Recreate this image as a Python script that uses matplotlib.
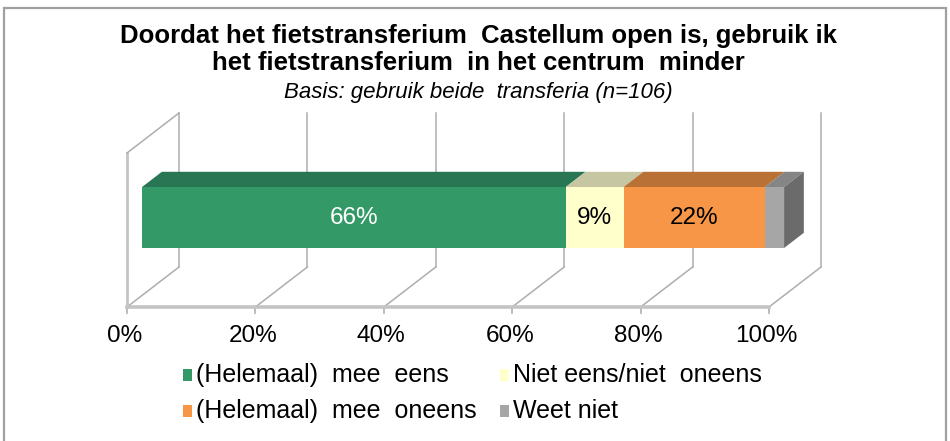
import matplotlib.pyplot as plt
from matplotlib.patches import Polygon, Rectangle

plt.rcParams['font.family'] = ['Liberation Sans', 'DejaVu Sans']

# data
categories = ['(Helemaal)  mee  eens', 'Niet eens/niet  oneens',
              '(Helemaal)  mee  oneens', 'Weet niet']
values = [66, 9, 22, 3]
bar_labels = ['66%', '9%', '22%', '']
front_colors = ['#339966', '#FFFFCC', '#F79646', '#A6A6A6']
top_colors = ['#287653', '#C6C6A2', '#BA7136', '#858585']
side_color = '#6B6B6B'
label_colors = ['white', 'black', 'black', 'black']
ticks = [0, 20, 40, 60, 80, 100]

title_lines = ['Doordat het fietstransferium  Castellum open is, gebruik ik',
               'het fietstransferium  in het centrum  minder']
subtitle = 'Basis: gebruik beide  transferia (n=106)'

# 3d look: depth offset (x in %, y in px)
DX, DY = 8.1, 40
WALL_H = 154
F1, F2 = 0.29, 0.67          # front/back depth of the bar
H0, H1 = 47.4, 108.4         # bar bottom/top


def proj(x, h, d):
    return (x + d * DX, h + d * DY)


fig = plt.figure(figsize=(9.5, 4.41), dpi=100)
ax = fig.add_axes([94.9 / 950, 124 / 441, 770.4 / 950, 210 / 441])
ax.set_xlim(-5, 115)
ax.set_ylim(-10, 200)
ax.axis('off')

grid_c = '#ADADAD'
# floor lines + back wall gridlines
for t in ticks:
    bx, by = proj(t, 0, 1)
    ax.plot([t, bx], [0, by], color=grid_c, lw=1.1, zorder=1)
    ax.plot([bx, bx], [by, by + WALL_H], color=grid_c, lw=1.1, zorder=1)
    ax.plot([t, t], [0, -6], color='#B5B5B5', lw=1.3, zorder=1)
# left wall
tx, ty = proj(0, WALL_H, 1)
ax.plot([0, 0], [0, WALL_H], color='#C4C4C4', lw=2.0, zorder=1)
ax.plot([0, tx], [WALL_H, ty], color=grid_c, lw=1.1, zorder=1)
# floor front edge
ax.plot([0, 100], [0, 0], color='#C4C4C4', lw=2.6, zorder=2)

# stacked 3d bar
left = 0
for i, v in enumerate(values):
    x0, x1 = left, left + v
    front = [proj(x0, H0, F1), proj(x1, H0, F1), proj(x1, H1, F1), proj(x0, H1, F1)]
    top = [proj(x0, H1, F1), proj(x1, H1, F1), proj(x1, H1, F2), proj(x0, H1, F2)]
    ax.add_patch(Polygon(top, closed=True, fc=top_colors[i], ec='none', zorder=3))
    ax.add_patch(Polygon(front, closed=True, fc=front_colors[i], ec='none', zorder=4))
    if i == len(values) - 1:
        side = [proj(x1, H0, F1), proj(x1, H0, F2), proj(x1, H1, F2), proj(x1, H1, F1)]
        ax.add_patch(Polygon(side, closed=True, fc=side_color, ec='none', zorder=3))
    cx, cy = proj((x0 + x1) / 2, (H0 + H1) / 2, F1)
    if bar_labels[i]:
        ax.text(cx, cy, bar_labels[i], ha='center', va='center',
                fontsize=17.5, color=label_colors[i], zorder=5)
    left = x1

# tick labels
for t in ticks:
    ax.text(t - 0.4, -29, f'{t}%', ha='center', va='center', fontsize=17.5)

# titles
fig.text(478 / 950, 1 - 43 / 441, title_lines[0], ha='center', va='baseline',
         fontsize=18.5, fontweight='bold')
fig.text(478 / 950, 1 - 70 / 441, title_lines[1], ha='center', va='baseline',
         fontsize=18.5, fontweight='bold')
fig.text(478 / 950, 1 - 98 / 441, subtitle, ha='center', va='baseline',
         fontsize=16, style='italic')

# legend
legend_pos = [(183, 375), (500, 375), (183, 411), (500, 411)]
for (px, py), lab, col in zip(legend_pos, categories, front_colors):
    fig.patches.append(Rectangle((px / 950, 1 - (py + 6) / 441), 9 / 950, 12 / 441,
                                 transform=fig.transFigure, fc=col, ec='none'))
    fig.text((px + 13) / 950, 1 - py / 441, lab, ha='left', va='center', fontsize=18)

# outer frame
fig.patches.append(Rectangle((4 / 950, -0.05), 942 / 950, 1 - 8 / 441 + 0.05,
                             transform=fig.transFigure, fill=False,
                             ec='#A0A0A0', lw=1.6))

fig.savefig('out.png', dpi=100)
